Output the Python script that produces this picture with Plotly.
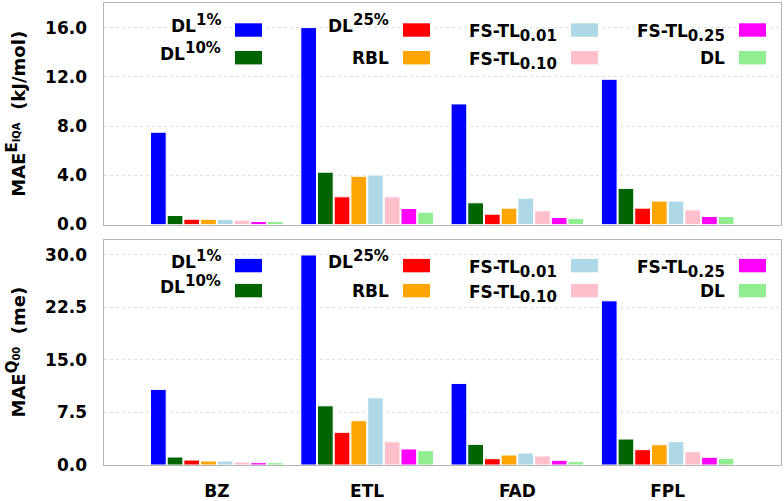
import plotly.graph_objects as go
from plotly.subplots import make_subplots

categories = ["BZ", "ETL", "FAD", "FPL"]
SS = '<span style="font-size:15px">{}</span>'
series_names = ["DL<sup>" + SS.format("1%") + "</sup>", "DL<sup>" + SS.format("10%") + "</sup>",
                "DL<sup>" + SS.format("25%") + "</sup>", "RBL",
                "FS-TL<sub>" + SS.format("0.01") + "</sub>", "FS-TL<sub>" + SS.format("0.10") + "</sub>",
                "FS-TL<sub>" + SS.format("0.25") + "</sub>", "DL"]
colors = ["#0000ff", "#006400", "#ff0000", "#ffa500", "#add8e6", "#ffc0cb", "#ff00ff", "#90ee90"]

# MAE of E_IQA (kJ/mol), one list per series, values for BZ, ETL, FAD, FPL
e_dl1 = [7.5, 16.0, 9.8, 11.8]
e_dl10 = [0.73, 4.25, 1.76, 2.93]
e_dl25 = [0.43, 2.25, 0.84, 1.33]
e_rbl = [0.42, 3.92, 1.33, 1.9]
e_fs001 = [0.40, 4.02, 2.14, 1.9]
e_fs010 = [0.35, 2.25, 1.11, 1.19]
e_fs025 = [0.24, 1.30, 0.57, 0.65]
e_dl = [0.24, 1.00, 0.49, 0.65]

# MAE of Q00 (me)
q_dl1 = [10.8, 30.0, 11.65, 23.45]
q_dl10 = [1.14, 8.45, 2.95, 3.71]
q_dl25 = [0.71, 4.67, 0.9, 2.19]
q_rbl = [0.57, 6.33, 1.43, 2.9]
q_fs001 = [0.57, 9.6, 1.71, 3.33]
q_fs010 = [0.43, 3.33, 1.29, 1.9]
q_fs025 = [0.33, 2.29, 0.67, 1.1]
q_dl = [0.33, 2.05, 0.48, 0.95]

e_series = [e_dl1, e_dl10, e_dl25, e_rbl, e_fs001, e_fs010, e_fs025, e_dl]
q_series = [q_dl1, q_dl10, q_dl25, q_rbl, q_fs001, q_fs010, q_fs025, q_dl]

e_ticks = [0, 4, 8, 12, 16]
q_ticks = [0, 7.5, 15, 22.5, 30]

W, H = 784, 501
FONT = "DejaVu Sans"

fig = make_subplots(rows=2, cols=1)
xpos = list(range(len(categories)))
for i in range(8):
    fig.add_trace(go.Bar(x=xpos, y=e_series[i], marker=dict(color=colors[i], line=dict(color="white", width=1)),
                         showlegend=False), row=1, col=1)
    fig.add_trace(go.Bar(x=xpos, y=q_series[i], marker=dict(color=colors[i], line=dict(color="white", width=1)),
                         showlegend=False), row=2, col=1)

def px(x):
    return x / W

def py(y):
    return 1 - y / H

xl, xr = 103.5, 781
top = (3, 224.5)
bot = (240, 465)

axis_common = dict(showline=True, mirror=True, linecolor="#b4b4b4", linewidth=1.2, zeroline=False,
                   automargin=False)
tickfont = dict(family=FONT, size=17, color="black", weight="bold")

fig.update_layout(
    width=W, height=H, margin=dict(l=0, r=0, t=0, b=0, autoexpand=False),
    paper_bgcolor="white", plot_bgcolor="white",
    barmode="group", bargap=0.111, bargroupgap=0.06,
    xaxis=dict(domain=[px(xl), px(xr)], range=[-0.754, 3.754], showticklabels=False, ticks="",
               showgrid=False, **axis_common),
    xaxis2=dict(domain=[px(xl), px(xr)], range=[-0.754, 3.754], tickvals=xpos, ticktext=categories,
                ticks="", showgrid=False, tickfont=tickfont, ticklabelstandoff=10, **axis_common),
    yaxis=dict(domain=[py(top[1]), py(top[0])], range=[0, 18], tickvals=e_ticks, tickformat=".1f",
               ticks="", tickfont=tickfont, ticklabelstandoff=12, showgrid=True, gridcolor="#e0e0e0",
               griddash="dot", gridwidth=1, **axis_common),
    yaxis2=dict(domain=[py(bot[1]), py(bot[0])], range=[0, 32.14], tickvals=q_ticks, tickformat=".1f",
                ticks="", tickfont=tickfont, ticklabelstandoff=12, showgrid=True, gridcolor="#e0e0e0",
                griddash="dot", gridwidth=1, **axis_common),
)

# Y-axis titles
fig.add_annotation(x=px(16), y=py((top[0] + top[1]) / 2), xref="paper", yref="paper",
                   text=('MAE<sup><span style="font-size:15px">E</span>'
                         '<sub><span style="font-size:10px">IQA</span></sub></sup>&nbsp;&nbsp;(kJ/mol)'),
                   textangle=-90, showarrow=False,
                   font=dict(family=FONT, size=18, color="black", weight="bold"),
                   xanchor="center", yanchor="middle")
fig.add_annotation(x=px(16), y=py((bot[0] + bot[1]) / 2), xref="paper", yref="paper",
                   text=('MAE<sup><span style="font-size:15px">Q</span>'
                         '<sub><span style="font-size:10px">00</span></sub></sup>&nbsp;&nbsp;(me)'),
                   textangle=-90, showarrow=False,
                   font=dict(family=FONT, size=18, color="black", weight="bold"),
                   xanchor="center", yanchor="middle")

# Manual legends (text to the left of swatch), 4 columns x 2 rows
col_swatch_left = [235, 403, 571, 739]
sw_w = 27
sw_h = 13.4
legend_rows = {"top": [30, 57.7], "bot": [265.6, 290.6]}
order = [[0, 1], [2, 3], [4, 5], [6, 7]]
for key, rows in legend_rows.items():
    for c, idxs in enumerate(order):
        for r, si in enumerate(idxs):
            cy = rows[r]
            x0 = col_swatch_left[c]
            fig.add_shape(type="rect", xref="paper", yref="paper",
                          x0=px(x0), x1=px(x0 + sw_w), y0=py(cy + sw_h / 2), y1=py(cy - sw_h / 2),
                          fillcolor=colors[si], line=dict(width=0))
            name = series_names[si]
            if "<sup>" in name:
                dy = -6.5
            elif "<sub>" in name:
                dy = 3
            else:
                dy = 0
            fig.add_annotation(x=px(x0 - 12), y=py(cy + dy), xref="paper", yref="paper",
                               text=name, showarrow=False, xanchor="right", yanchor="middle",
                               font=dict(family=FONT, size=17, color="black", weight="bold"))

fig.write_html("out.html")
